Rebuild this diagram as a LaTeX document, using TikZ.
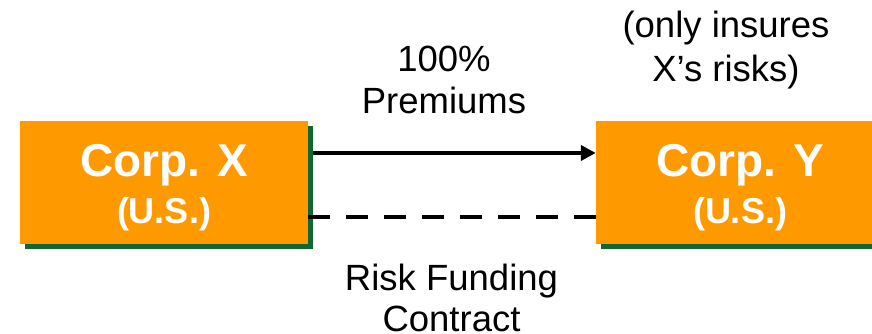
\documentclass[tikz,border=0pt]{standalone}
\usepackage{fontspec}
\setmainfont{Liberation Sans}
\usepackage{tikz}
\usetikzlibrary{arrows.meta,shadows}
\definecolor{corporange}{HTML}{FF9900}
\definecolor{shadowgreen}{HTML}{116633}

\begin{document}
\begin{tikzpicture}[x=1pt,y=1pt,
  every node/.style={font=\fontsize{36.5}{42}\selectfont, inner sep=0pt},
  corp/.style={fill=corporange, minimum width=288pt, minimum height=123pt,
    drop shadow={fill=shadowgreen, opacity=1, shadow xshift=5pt, shadow yshift=-5pt}},
  corpname/.style={align=center, text=white, font=\bfseries\fontsize{46}{46.5}\selectfont},
  flow/.style={line width=4pt}]
\useasboundingbox (0,0) rectangle (872,334);
\clip (0,0) rectangle (872,334);
\node[corp] (X) at (164,151.5) {};
\node[corp] (Y) at (740,151.5) {};
\node[corpname] (Xname) at ([yshift=-5pt]X.center) {Corp. X\\{\fontsize{36}{36}\selectfont (U.S.)}};
\node[corpname] (Yname) at ([yshift=-5pt]Y.center) {Corp. Y\\{\fontsize{36}{36}\selectfont (U.S.)}};
\draw[flow, -{Triangle[length=15pt,width=15pt]}] ([shift={(5pt,29.5pt)}]X.east) -- ([yshift=29.5pt]Y.west);
\draw[flow, dash pattern=on 22pt off 16pt] ([yshift=-34.5pt]X.east) -- ([yshift=-34.5pt]Y.west);
\node[align=center, anchor=base] (prem) at (444,220.3) {100\%\\Premiums};
\node[align=center, anchor=base, font=\fontsize{36.5}{44}\selectfont] (only) at (726,252) {(only insures\\X’s risks)};
\node[align=center, anchor=base, font=\fontsize{36.5}{41}\selectfont] (risk) at (451.5,2.5) {Risk Funding\\Contract};
\end{tikzpicture}
\end{document}
